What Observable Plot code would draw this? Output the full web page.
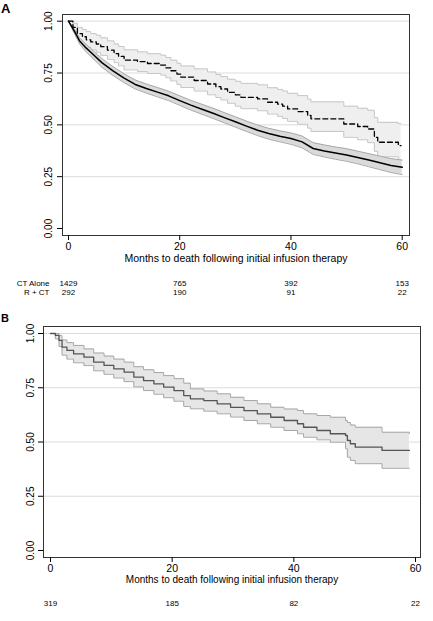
<!DOCTYPE html>
<html><head><meta charset="utf-8">
<script src="https://cdn.jsdelivr.net/npm/d3@7"></script>
<script src="https://cdn.jsdelivr.net/npm/@observablehq/plot@0.6"></script>
<style>
body{margin:0;background:#fff;font-family:"Liberation Sans",Arial,sans-serif;}
#wrap{position:relative;width:433px;height:621px;overflow:hidden;}
.pl{position:absolute;font-weight:bold;color:#000;font-family:"Liberation Sans",Arial,sans-serif;line-height:normal;}
.panel{position:absolute;left:0;}
</style></head><body>
<div id="wrap">
<div class="panel" id="pa" style="top:0"></div>
<div class="panel" id="pb" style="top:305px"></div>
<div class="pl" style="left:1px;top:1px;font-size:13px">A</div>
<div class="pl" style="left:1px;top:312px;font-size:11px">B</div>
</div>
<script>
// ---------- Panel A : CT Alone (solid) ----------
const ctT  = [0, 1, 2, 3, 4, 6, 8, 10, 12, 14, 16, 18, 20, 22, 24, 26, 28, 30, 32, 34, 36, 38, 40, 42, 44, 46, 48, 50, 52, 54, 56, 58, 60];
const ctS  = [1, .955, .905, .875, .85, .8, .76, .725, .695, .675, .658, .64, .617, .595, .575, .556, .535, .515, .494, .474, .458, .445, .434, .418, .386, .374, .364, .355, .343, .330, .317, .304, .295];
const ctLo = [1, .945, .89, .857, .83, .778, .738, .703, .673, .653, .635, .617, .594, .571, .551, .531, .51, .489, .468, .448, .431, .418, .406, .389, .357, .345, .334, .324, .312, .298, .284, .27, .26];
const ctHi = [1, .965, .92, .892, .868, .82, .781, .746, .716, .697, .68, .662, .64, .618, .599, .58, .559, .539, .518, .499, .483, .471, .461, .446, .414, .403, .393, .385, .373, .361, .349, .337, .33];
// ---------- Panel A : R + CT (dashed) ----------
const rcT  = [0, 0.8, 1.6, 2.5, 3.2, 4, 5, 5.8, 7, 8.2, 9, 10, 12.4, 14.2, 16.6, 17.5, 18.4, 19.5, 20.2, 22.6, 25, 26.5, 27.4, 28.6, 30, 31, 34, 35.8, 37.6, 38.5, 39.4, 41.2, 43, 43.6, 49.5, 52, 53.8, 55, 55.6, 59.3, 59.8];
const rcS  = [1, .97, .94, .925, .91, .9, .89, .877, .86, .844, .83, .812, .805, .796, .788, .775, .761, .745, .73, .714, .697, .684, .673, .657, .645, .633, .625, .609, .6, .59, .577, .564, .545, .529, .504, .492, .48, .44, .416, .40, .40];
const rcHi = [1, .99, .97, .96, .95, .94, .932, .92, .905, .89, .878, .862, .852, .843, .836, .825, .812, .797, .784, .77, .755, .743, .733, .72, .71, .70, .693, .679, .671, .663, .652, .641, .624, .611, .59, .58, .57, .535, .512, .506, .506];
const rcLo = [1, .95, .91, .89, .875, .862, .85, .835, .816, .8, .785, .765, .757, .748, .74, .727, .712, .695, .68, .663, .645, .632, .62, .604, .59, .578, .568, .552, .541, .531, .517, .503, .484, .468, .44, .428, .414, .372, .346, .33, .328];
// ---------- Panel B ----------
const bT  = [0, 0.8, 1.4, 1.9, 2.7, 3.8, 5.5, 7.1, 8.8, 10.4, 12.1, 13.7, 15.3, 17, 18.6, 20.3, 21.9, 23.0, 25.2, 27.4, 29.6, 31.8, 34.0, 36.2, 38.4, 40.6, 41.6, 43.8, 46.0, 48.5, 48.8, 49.3, 50.1, 54.5, 59];
const bS  = [1, .991, .968, .937, .922, .906, .891, .868, .853, .837, .822, .799, .783, .768, .753, .737, .714, .699, .691, .676, .66, .645, .63, .614, .599, .584, .568, .553, .538, .53, .507, .492, .476, .461, .461];
const bHi = [1, 1, .99, .97, .958, .945, .929, .91, .896, .882, .868, .847, .833, .82, .806, .792, .771, .745, .735, .722, .706, .691, .676, .66, .652, .645, .63, .622, .614, .599, .59, .578, .568, .545, .538];
const bLo = [1, .975, .94, .9, .882, .865, .852, .828, .812, .795, .778, .754, .737, .72, .704, .688, .664, .653, .642, .63, .615, .599, .584, .568, .553, .538, .522, .51, .499, .469, .43, .415, .4, .379, .379];

// ---------- Ticks and risk table ----------
const xTicks = [0, 20, 40, 60];
const yTicks = [0, 0.25, 0.5, 0.75, 1];
const gridY = [0.25, 0.5, 0.75, 1];
const riskTimes = [0, 20, 40, 60];
const ctAloneN = [1429, 765, 392, 153];
const rctN = [292, 190, 91, 22];
const bN = [319, 185, 82, 22];
const groupA = ["CT Alone", "R + CT"];
const xLabel = "Months to death following initial infusion therapy";

const toRows = (T, S, Lo, Hi) => T.map((t, i) => ({t, s: S[i], lo: Lo[i], hi: Hi[i]}));
const ct = toRows(ctT, ctS, ctLo, ctHi);
const rc = toRows(rcT, rcS, rcLo, rcHi);
const bd = toRows(bT, bS, bLo, bHi);
const FONT = "Liberation Sans, Arial, sans-serif";

const plotA = Plot.plot({
  width: 433, height: 305,
  marginLeft: 62, marginRight: 24, marginTop: 14, marginBottom: 70,
  style: {fontFamily: FONT, background: "#fff", color: "#000"},
  x: {domain: [0, 60], insetLeft: 6, insetRight: 7.3},
  y: {domain: [0, 1], insetTop: 6.7, insetBottom: 7},
  marks: [
    Plot.ruleY(gridY, {stroke: "#dcdcdc", strokeWidth: 1}),
    Plot.areaY(rc, {x: "t", y1: "lo", y2: "hi", curve: "step-after", fill: "#efefef"}),
    Plot.lineY(rc, {x: "t", y: "lo", curve: "step-after", stroke: "#c6c6c6", strokeWidth: 1}),
    Plot.lineY(rc, {x: "t", y: "hi", curve: "step-after", stroke: "#c6c6c6", strokeWidth: 1}),
    Plot.areaY(ct, {x: "t", y1: "lo", y2: "hi", fill: "#dadada"}),
    Plot.lineY(ct, {x: "t", y: "lo", stroke: "#a9a9a9", strokeWidth: 1}),
    Plot.lineY(ct, {x: "t", y: "hi", stroke: "#a9a9a9", strokeWidth: 1}),
    Plot.lineY(rc, {x: "t", y: "s", curve: "step-after", stroke: "#000", strokeWidth: 1.3, strokeDasharray: "5,3"}),
    Plot.lineY(ct, {x: "t", y: "s", stroke: "#000", strokeWidth: 1.5}),
    Plot.frame({stroke: "#333", strokeWidth: 1}),
    Plot.axisY({ticks: yTicks, tickSize: 5, tickFormat: () => "", label: null, stroke: "#000"}),
    Plot.text(yTicks, {y: d => d, frameAnchor: "left", dx: -14, rotate: -90, text: d => d.toFixed(2), fontSize: 10, textAnchor: "middle", lineAnchor: "middle", fill: "#000"}),
    Plot.axisX({ticks: xTicks, tickSize: 5, tickPadding: 2, fontSize: 10.5, label: null}),
    Plot.text([xLabel], {frameAnchor: "bottom", dy: 23, text: d => d, fontSize: 10.5, lineAnchor: "middle", fill: "#000"}),
    Plot.text(riskTimes, {x: d => d, frameAnchor: "bottom", dy: 48, text: (d, i) => String(ctAloneN[i]), fontSize: 8, lineAnchor: "middle", fill: "#000"}),
    Plot.text(riskTimes, {x: d => d, frameAnchor: "bottom", dy: 57, text: (d, i) => String(rctN[i]), fontSize: 8, lineAnchor: "middle", fill: "#000"}),
    Plot.text([groupA[0]], {x: 0, frameAnchor: "bottom", dy: 48, dx: -19, text: d => d, fontSize: 8, textAnchor: "end", lineAnchor: "middle", fill: "#000"}),
    Plot.text([groupA[1]], {x: 0, frameAnchor: "bottom", dy: 57, dx: -19, text: d => d, fontSize: 8, textAnchor: "end", lineAnchor: "middle", fill: "#000"})
  ]
});
document.getElementById("pa").appendChild(plotA);

const plotB = Plot.plot({
  width: 433, height: 316,
  marginLeft: 43, marginRight: 13, marginTop: 21, marginBottom: 64,
  style: {fontFamily: FONT, background: "#fff", color: "#000"},
  x: {domain: [0, 60], insetLeft: 7, insetRight: 5},
  y: {domain: [0, 1], insetTop: 7, insetBottom: 7},
  marks: [
    Plot.ruleY(gridY, {stroke: "#dcdcdc", strokeWidth: 1}),
    Plot.areaY(bd, {x: "t", y1: "lo", y2: "hi", curve: "step-after", fill: "#e6e6e6"}),
    Plot.lineY(bd, {x: "t", y: "lo", curve: "step-after", stroke: "#a6a6a6", strokeWidth: 1}),
    Plot.lineY(bd, {x: "t", y: "hi", curve: "step-after", stroke: "#a6a6a6", strokeWidth: 1}),
    Plot.lineY(bd, {x: "t", y: "s", curve: "step-after", stroke: "#555", strokeWidth: 1.3}),
    Plot.frame({stroke: "#333", strokeWidth: 1}),
    Plot.axisY({ticks: yTicks, tickSize: 5, tickFormat: () => "", label: null, stroke: "#000"}),
    Plot.text(yTicks, {y: d => d, frameAnchor: "left", dx: -13, rotate: -90, text: d => d.toFixed(2), fontSize: 10, textAnchor: "middle", lineAnchor: "middle", fill: "#000"}),
    Plot.axisX({ticks: xTicks, tickSize: 5, tickPadding: 2, fontSize: 10.5, label: null}),
    Plot.text([xLabel], {frameAnchor: "bottom", dy: 22, text: d => d, fontSize: 10, lineAnchor: "middle", fill: "#000"}),
    Plot.text(riskTimes, {x: d => d, frameAnchor: "bottom", dy: 46, text: (d, i) => String(bN[i]), fontSize: 8, lineAnchor: "middle", fill: "#000"})
  ]
});
document.getElementById("pb").appendChild(plotB);
</script>
</body></html>
